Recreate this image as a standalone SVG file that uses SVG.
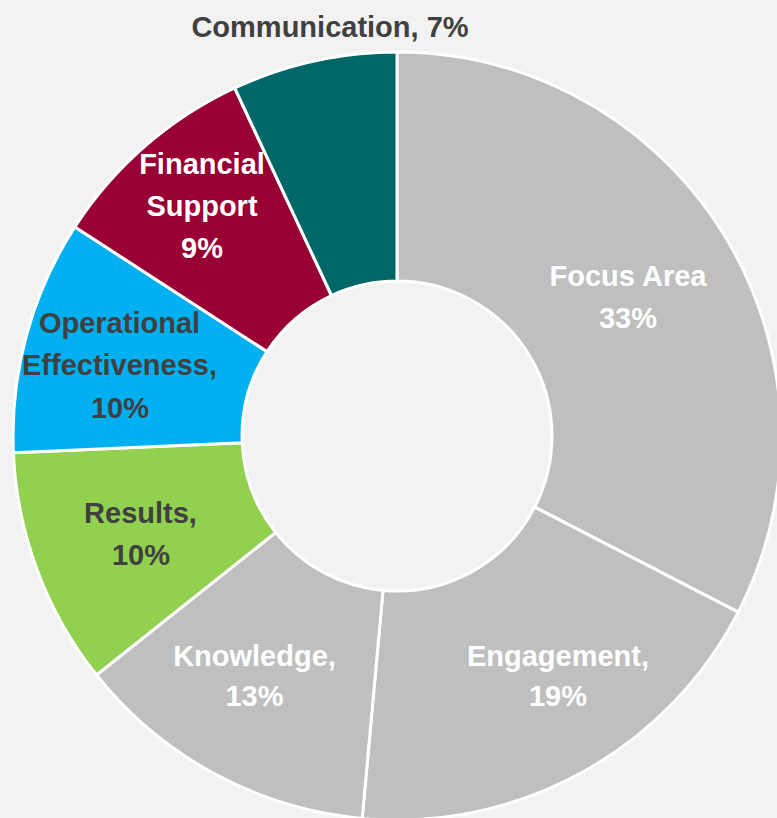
<svg xmlns="http://www.w3.org/2000/svg" width="777" height="818" viewBox="0 0 777 818">
  <style>
    .slice { stroke: #FFFFFF; stroke-width: 3; stroke-linejoin: round; }
    .lbl { font-family: "Liberation Sans", Arial, sans-serif; font-weight: bold; font-size: 29px; text-anchor: middle; }
    .light { fill: #FFFFFF; }
    .dark { fill: #404040; }
  </style>
  <rect x="0" y="0" width="777" height="818" fill="#F2F2F2"/>
  <g id="focus-area">
    <path class="slice" fill="#BFBFBF" d="M397,52 A384,384 0 0 1 738.2,612.1 L534.7,507.1 A155,155 0 0 0 397,281 Z"/>
    <text class="lbl light" x="628" y="286">Focus Area</text>
    <text class="lbl light" x="628" y="328">33%</text>
  </g>
  <g id="engagement">
    <path class="slice" fill="#BFBFBF" d="M738.2,612.1 A384,384 0 0 1 362.2,818.4 L383.0,590.4 A155,155 0 0 0 534.7,507.1 Z"/>
    <text class="lbl light" x="558" y="666">Engagement,</text>
    <text class="lbl light" x="558" y="706">19%</text>
  </g>
  <g id="knowledge">
    <path class="slice" fill="#BFBFBF" d="M362.2,818.4 A384,384 0 0 1 96.5,675.0 L275.7,532.5 A155,155 0 0 0 383.0,590.4 Z"/>
    <text class="lbl light" x="254.5" y="666">Knowledge,</text>
    <text class="lbl light" x="254.5" y="706">13%</text>
  </g>
  <g id="results">
    <path class="slice" fill="#92D050" d="M96.5,675.0 A384,384 0 0 1 13.4,452.7 L242.2,442.8 A155,155 0 0 0 275.7,532.5 Z"/>
    <text class="lbl dark" x="140.5" y="523">Results,</text>
    <text class="lbl dark" x="141" y="565">10%</text>
  </g>
  <g id="operational-effectiveness">
    <path class="slice" fill="#00B0F0" d="M13.4,452.7 A384,384 0 0 1 74.9,226.9 L267.0,351.6 A155,155 0 0 0 242.2,442.8 Z"/>
    <text class="lbl dark" x="119.5" y="333">Operational</text>
    <text class="lbl dark" x="119.5" y="375">Effectiveness,</text>
    <text class="lbl dark" x="120" y="418">10%</text>
  </g>
  <g id="financial-support">
    <path class="slice" fill="#990033" d="M74.9,226.9 A384,384 0 0 1 234.7,88.0 L331.5,295.5 A155,155 0 0 0 267.0,351.6 Z"/>
    <text class="lbl light" x="202" y="174">Financial</text>
    <text class="lbl light" x="202" y="216">Support</text>
    <text class="lbl light" x="202" y="258">9%</text>
  </g>
  <g id="communication">
    <path class="slice" fill="#006666" d="M234.7,88.0 A384,384 0 0 1 397,52 L397,281 A155,155 0 0 0 331.5,295.5 Z"/>
    <text class="lbl dark" x="330" y="37">Communication, 7%</text>
  </g>
</svg>
